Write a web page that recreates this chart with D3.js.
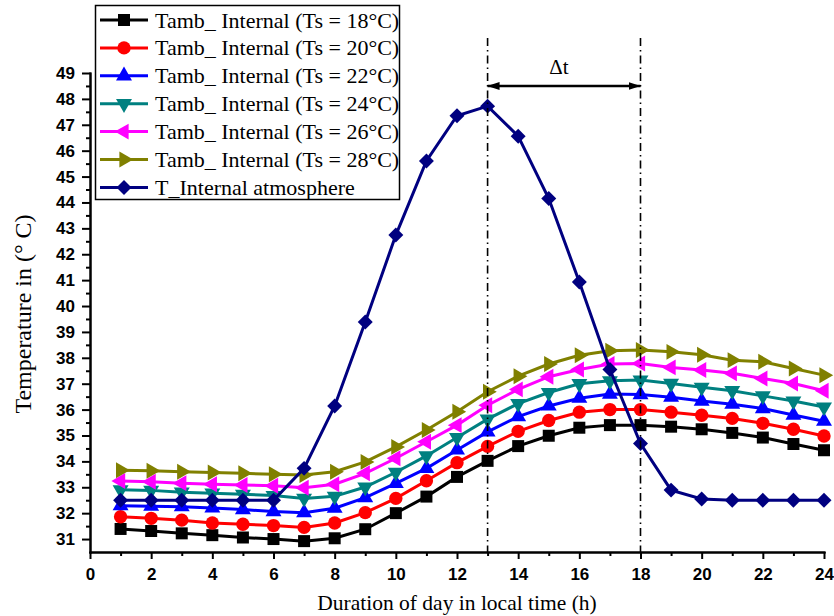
<!DOCTYPE html>
<html>
<head>
<meta charset="utf-8">
<script src="https://cdn.jsdelivr.net/npm/d3@7"></script>
<style>
  body { margin: 0; background: #fff; }
  .tick text { font-family: Arial, "Liberation Sans", sans-serif; font-weight: bold; font-size: 17px; fill: #000; }
  .serif { font-family: "Times New Roman", "Liberation Serif", serif; fill: #000; }
</style>
</head>
<body>
<svg id="chart" width="834" height="616"></svg>
<script>
// hours of the day
var hours = [1, 2, 3, 4, 5, 6, 7, 8, 9, 10, 11, 12, 13, 14, 15, 16, 17, 18, 19, 20, 21, 22, 23, 24];

// ambient internal temperature for each Ts
var ts18 = [31.39, 31.31, 31.22, 31.15, 31.06, 31.0, 30.92, 31.03, 31.38, 32.0, 32.64, 33.4, 34.02, 34.59, 34.99, 35.3, 35.4, 35.4, 35.34, 35.24, 35.1, 34.92, 34.67, 34.43];
var ts20 = [31.86, 31.8, 31.73, 31.62, 31.57, 31.52, 31.45, 31.62, 32.02, 32.57, 33.25, 33.95, 34.58, 35.16, 35.58, 35.9, 36.0, 36.0, 35.9, 35.78, 35.66, 35.47, 35.24, 34.98];
var ts22 = [32.29, 32.27, 32.25, 32.2, 32.14, 32.06, 32.02, 32.19, 32.6, 33.15, 33.73, 34.44, 35.14, 35.73, 36.14, 36.44, 36.6, 36.58, 36.48, 36.33, 36.21, 36.04, 35.79, 35.55];
var ts24 = [32.9, 32.88, 32.81, 32.77, 32.73, 32.68, 32.57, 32.65, 33.01, 33.58, 34.21, 34.92, 35.63, 36.23, 36.66, 37.0, 37.11, 37.14, 37.01, 36.86, 36.73, 36.53, 36.33, 36.1];
var ts26 = [33.24, 33.21, 33.16, 33.12, 33.09, 33.06, 32.98, 33.12, 33.54, 34.12, 34.76, 35.4, 36.17, 36.78, 37.27, 37.55, 37.76, 37.78, 37.63, 37.53, 37.4, 37.2, 37.01, 36.73];
var ts28 = [33.66, 33.64, 33.6, 33.57, 33.54, 33.5, 33.47, 33.6, 33.98, 34.56, 35.21, 35.92, 36.69, 37.29, 37.76, 38.1, 38.27, 38.3, 38.23, 38.12, 37.91, 37.85, 37.59, 37.33];
// internal atmosphere
var internalAtm = [32.5, 32.5, 32.5, 32.5, 32.5, 32.5, 33.73, 36.14, 39.38, 42.74, 45.6, 47.35, 47.72, 46.56, 44.15, 40.93, 37.55, 34.69, 32.89, 32.55, 32.5, 32.5, 32.5, 32.5];

var seriesNames = [
  'Tamb_ Internal (Ts = 18°C)',
  'Tamb_ Internal (Ts = 20°C)',
  'Tamb_ Internal (Ts = 22°C)',
  'Tamb_ Internal (Ts = 24°C)',
  'Tamb_ Internal (Ts = 26°C)',
  'Tamb_ Internal (Ts = 28°C)',
  'T_Internal atmosphere'
];

// ticks
var xTickMajor = [0, 2, 4, 6, 8, 10, 12, 14, 16, 18, 20, 22, 24];
var xTickMinor = [1, 3, 5, 7, 9, 11, 13, 15, 17, 19, 21, 23];
var yTickMajor = [31, 32, 33, 34, 35, 36, 37, 38, 39, 40, 41, 42, 43, 44, 45, 46, 47, 48, 49];
var yTickMinor = [31.5, 32.5, 33.5, 34.5, 35.5, 36.5, 37.5, 38.5, 39.5, 40.5, 41.5, 42.5, 43.5, 44.5, 45.5, 46.5, 47.5, 48.5];

// delta t markers
var deltaStart = 13;
var deltaEnd = 18;

var colors = ['#000000', '#ff0000', '#0000ff', '#008080', '#ff00ff', '#808000', '#000080'];
// shape + rotation of each marker
var shapes = [
  { type: d3.symbolSquare, size: 144, rotate: 0 },
  { type: d3.symbolCircle, size: 140, rotate: 0 },
  { type: d3.symbolTriangle, size: 110, rotate: 0 },
  { type: d3.symbolTriangle, size: 110, rotate: 180 },
  { type: d3.symbolTriangle, size: 110, rotate: -90 },
  { type: d3.symbolTriangle, size: 110, rotate: 90 },
  { type: d3.symbolSquare, size: 112, rotate: 45 }
];

var allSeries = [ts18, ts20, ts22, ts24, ts26, ts28, internalAtm];

var svg = d3.select('#chart');

var x = d3.scaleLinear().domain([0, 24]).range([90, 824]);
var y = d3.scaleLinear().domain([30.5, 49]).range([552, 73]);

// axes
var yAxis = d3.axisLeft(y).tickValues(yTickMajor).tickSize(8).tickSizeOuter(0).tickPadding(7);
var yAxisMinor = d3.axisLeft(y).tickValues(yTickMinor).tickSize(4).tickSizeOuter(0).tickFormat('');
var xAxis = d3.axisBottom(x).tickValues(xTickMajor).tickSize(7).tickSizeOuter(0).tickPadding(9);
var xAxisMinor = d3.axisBottom(x).tickValues(xTickMinor).tickSize(4).tickSizeOuter(0).tickFormat('');

function styleAxis(g) {
  g.selectAll('path, line').attr('stroke', '#000').attr('stroke-width', 2);
}

svg.append('g').attr('transform', 'translate(90,0)').call(yAxisMinor).call(styleAxis);
svg.append('g').attr('transform', 'translate(90,0)').call(yAxis).call(styleAxis);
svg.append('g').attr('transform', 'translate(0,552)').call(xAxisMinor).call(styleAxis);
svg.append('g').attr('transform', 'translate(0,552)').call(xAxis).call(styleAxis);

svg.selectAll('.domain').attr('stroke-linecap', 'square');

// axis titles
svg.append('text')
  .attr('class', 'serif')
  .attr('x', 457)
  .attr('y', 610)
  .attr('text-anchor', 'middle')
  .style('font-size', '21.5px')
  .text('Duration of day in local time (h)');

svg.append('text')
  .attr('class', 'serif')
  .attr('transform', 'translate(31,314) rotate(-90)')
  .attr('text-anchor', 'middle')
  .style('font-size', '24px')
  .text('Temperature in (° C)');

// series
var line = d3.line()
  .x(function(d) { return x(d[0]); })
  .y(function(d) { return y(d[1]); });

function symbolPath(i) {
  return d3.symbol().type(shapes[i].type).size(shapes[i].size)();
}

allSeries.forEach(function(values, i) {
  var pts = hours.map(function(h, j) { return [h, values[j]]; });
  var g = svg.append('g');
  g.append('path')
    .datum(pts)
    .attr('fill', 'none')
    .attr('stroke', colors[i])
    .attr('stroke-width', 3)
    .attr('d', line);
  g.selectAll('path.marker')
    .data(pts)
    .enter()
    .append('path')
    .classed('marker', true)
    .attr('d', symbolPath(i))
    .attr('fill', colors[i])
    .attr('transform', function(d) {
      return 'translate(' + x(d[0]) + ',' + y(d[1]) + ') rotate(' + shapes[i].rotate + ')';
    });
});

// dash-dot verticals
[deltaStart, deltaEnd].forEach(function(v) {
  svg.append('line')
    .attr('x1', x(v)).attr('x2', x(v))
    .attr('y1', 38).attr('y2', 552)
    .attr('stroke', '#000')
    .attr('stroke-width', 1.6)
    .attr('stroke-dasharray', '8,4,1.5,4');
});

// arrow
var defs = svg.append('defs');
defs.append('marker')
  .attr('id', 'arrowEnd')
  .attr('viewBox', '0 0 12 8')
  .attr('refX', 12).attr('refY', 4)
  .attr('markerWidth', 12).attr('markerHeight', 8)
  .attr('markerUnits', 'userSpaceOnUse')
  .attr('orient', 'auto-start-reverse')
  .append('path')
  .attr('d', 'M0,0 L12,4 L0,8 Z')
  .attr('fill', '#000');

svg.append('line')
  .attr('x1', x(deltaStart)).attr('x2', x(deltaEnd))
  .attr('y1', 86).attr('y2', 86)
  .attr('stroke', '#000')
  .attr('stroke-width', 2.5)
  .attr('marker-start', 'url(#arrowEnd)')
  .attr('marker-end', 'url(#arrowEnd)');

svg.append('text')
  .attr('class', 'serif')
  .attr('x', (x(deltaStart) + x(deltaEnd)) / 2 - 5)
  .attr('y', 74)
  .attr('text-anchor', 'middle')
  .style('font-size', '21px')
  .text('Δt');

// legend
var legend = svg.append('g');
legend.append('rect')
  .attr('x', 95.5).attr('y', 5.5)
  .attr('width', 304).attr('height', 194)
  .attr('fill', '#fff')
  .attr('stroke', '#000')
  .attr('stroke-width', 1.5);

seriesNames.forEach(function(name, i) {
  var ly = 20 + i * 27.9;
  legend.append('line')
    .attr('x1', 100).attr('x2', 148)
    .attr('y1', ly).attr('y2', ly)
    .attr('stroke', colors[i])
    .attr('stroke-width', 3);
  legend.append('path')
    .attr('d', symbolPath(i))
    .attr('fill', colors[i])
    .attr('transform', 'translate(124,' + ly + ') rotate(' + shapes[i].rotate + ')');
  legend.append('text')
    .attr('class', 'serif')
    .attr('x', 155)
    .attr('y', ly + 7.5)
    .style('font-size', '22px')
    .text(name);
});
</script>
</body>
</html>
